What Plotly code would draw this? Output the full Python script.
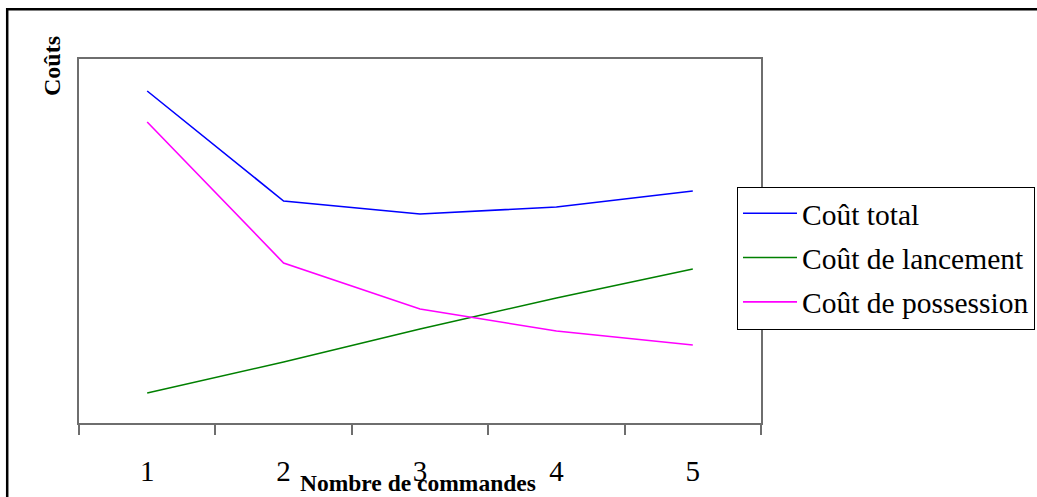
import plotly.graph_objects as go

# Data (arbitrary cost units, axis starts at 0)
commandes = [1, 2, 3, 4, 5]
tick_labels = ["1", "2", "3", "4", "5"]
cout_total = [332, 222, 209, 216, 232]
cout_lancement = [30, 61, 94, 125, 154]
cout_possession = [301, 160, 114, 92, 78]

series_names = ["Coût total", "Coût de lancement", "Coût de possession"]
series_colors = ["#0000ff", "#008000", "#ff00ff"]

W, H = 1037, 497
ML, MR, MT, MB = 79, 276, 59, 74
PW = W - ML - MR
PH = H - MT - MB


def px_x(p):
    return (p - ML) / PW


def px_y(p):
    return (H - MB - p) / PH


fig = go.Figure()
for i, (name, vals, col) in enumerate(zip(series_names,
                                          [cout_total, cout_lancement, cout_possession],
                                          series_colors)):
    fig.add_trace(go.Scatter(x=commandes, y=vals, mode="lines", name=name,
                             line=dict(color=col, width=1.6),
                             legendgroup="g%d" % i))

axis_col = "#6e6e6e"
fig.update_layout(
    width=W, height=H,
    margin=dict(l=ML, r=MR, t=MT, b=MB, autoexpand=False),
    paper_bgcolor="white", plot_bgcolor="white",
    font=dict(family="Liberation Serif", color="black"),
    showlegend=True,
    legend=dict(x=px_x(737), y=px_y(186.5), xanchor="left", yanchor="top",
                bgcolor="white", bordercolor="black", borderwidth=1,
                font=dict(family="Liberation Serif", size=29.5, color="black"),
                tracegroupgap=3, itemwidth=54),
    xaxis=dict(range=[0.5, 5.5], tickmode="array", tickvals=commandes,
               ticktext=tick_labels, ticks="", showgrid=False, zeroline=False,
               showline=True, mirror=True, linecolor=axis_col, linewidth=1.5,
               automargin=False,
               tickfont=dict(family="Liberation Serif", size=29, color="black"),
               ticklabelstandoff=21,
               minor=dict(tick0=0.5, dtick=1, ticks="outside", ticklen=10,
                          tickwidth=1.5, tickcolor=axis_col, showgrid=False)),
    yaxis=dict(range=[0, PH], showticklabels=False, ticks="", showgrid=False,
               zeroline=False, showline=True, mirror=True, linecolor=axis_col,
               linewidth=1.5, automargin=False),
    annotations=[
        dict(text="<b>Coûts</b>", xref="paper", yref="paper", x=px_x(52), y=px_y(66),
             xanchor="center", yanchor="middle", textangle=-90, showarrow=False,
             font=dict(family="Liberation Serif", size=24, color="black")),
        dict(text="<b>Nombre de commandes</b>", xref="paper", yref="paper",
             x=px_x(418), y=px_y(483), xanchor="center", yanchor="middle",
             showarrow=False,
             font=dict(family="Liberation Serif", size=23.5, color="black")),
    ],
    shapes=[
        dict(type="rect", xref="paper", yref="paper", x0=px_x(7.2), x1=px_x(1060),
             y0=px_y(520), y1=px_y(9.2), line=dict(color="black", width=2.5),
             fillcolor="rgba(0,0,0,0)", layer="below"),
    ],
)

fig.write_html("out.html")
